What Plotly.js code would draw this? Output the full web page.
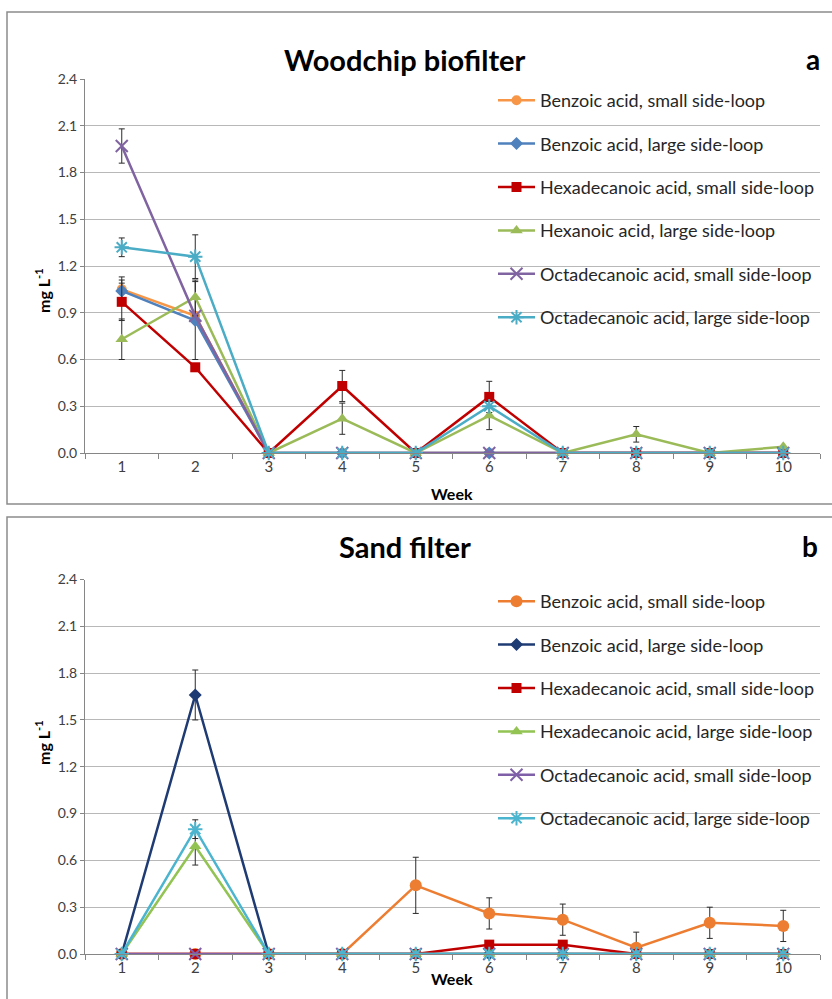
<!DOCTYPE html>
<html>
<head>
<meta charset="utf-8">
<script src="https://cdn.plot.ly/plotly-3.0.1.min.js"></script>
<style>html,body{margin:0;padding:0;background:#fff;}#chart{width:832px;height:999px;}</style>
</head>
<body>
<div id="chart"></div>
<script>
// ---------- data ----------
var weeks = ['1','2','3','4','5','6','7','8','9','10'];
var seriesNames = [
  'Benzoic acid, small side-loop',
  'Benzoic acid, large side-loop',
  'Hexadecanoic acid, small side-loop',
  'Hexanoic acid, large side-loop',
  'Octadecanoic acid, small side-loop',
  'Octadecanoic acid, large side-loop'
];
var seriesNamesB = [
  'Benzoic acid, small side-loop',
  'Benzoic acid, large side-loop',
  'Hexadecanoic acid, small side-loop',
  'Hexadecanoic acid, large side-loop',
  'Octadecanoic acid, small side-loop',
  'Octadecanoic acid, large side-loop'
];
// Panel a: Woodchip biofilter
var woodBenzSmall  = [1.05, 0.88, 0, 0, 0, 0, 0, 0, 0, 0];
var woodBenzLarge  = [1.04, 0.85, 0, 0, 0, 0, 0, 0, 0, 0];
var woodHexaSmall  = [0.97, 0.55, 0, 0.43, 0, 0.36, 0, 0, 0, 0];
var woodHexLarge   = [0.73, 1.00, 0, 0.22, 0, 0.24, 0, 0.12, 0, 0.04];
var woodOctaSmall  = [1.97, 0.88, 0, 0, 0, 0, 0, 0, 0, 0];
var woodOctaLarge  = [1.32, 1.26, 0, 0, 0, 0.30, 0, 0, 0, 0];
var woodBenzSmallErr = [0.08, null, null, null, null, null, null, null, null, null];
var woodBenzLargeErr = [0.07, 0.25, null, null, null, null, null, null, null, null];
var woodHexaSmallErr = [0.12, null, null, 0.10, null, 0.10, null, null, null, null];
var woodHexLargeErr  = [0.13, 0.11, null, 0.10, null, 0.09, null, 0.05, null, null];
var woodOctaSmallErr = [0.11, null, null, null, null, null, null, null, null, null];
var woodOctaLargeErr = [0.06, 0.14, null, null, null, null, null, null, null, null];
// Panel b: Sand filter
var sandBenzSmall  = [0, 0, 0, 0, 0.44, 0.26, 0.22, 0.04, 0.20, 0.18];
var sandBenzLarge  = [0, 1.66, 0, 0, 0, 0, 0, 0, 0, 0];
var sandHexaSmall  = [0, 0, 0, 0, 0, 0.06, 0.06, 0, 0, 0];
var sandHexaLarge  = [0, 0.69, 0, 0, 0, 0, 0, 0, 0, 0];
var sandOctaSmall  = [0, 0, 0, 0, 0, 0, 0, 0, 0, 0];
var sandOctaLarge  = [0, 0.80, 0, 0, 0, 0, 0, 0, 0, 0];
var sandBenzSmallErr = [null, null, null, null, 0.18, 0.10, 0.10, 0.10, 0.10, 0.10];
var sandBenzLargeErr = [null, 0.16, null, null, null, null, null, null, null, null];
var sandHexaSmallErr = [null, null, null, null, null, null, null, null, null, null];
var sandHexaLargeErr = [null, 0.12, null, null, null, null, null, null, null, null];
var sandOctaSmallErr = [null, null, null, null, null, null, null, null, null, null];
var sandOctaLargeErr = [null, 0.06, null, null, null, null, null, null, null, null];
var yTickVals = [0, 0.3, 0.6, 0.9, 1.2, 1.5, 1.8, 2.1, 2.4];

// ---------- styles ----------
var FONT = 'Lato, "Liberation Sans", sans-serif';
var styleA = [
  {color:'#F79646', symbol:'circle', size:10},
  {color:'#4F81BD', symbol:'diamond', size:10},
  {color:'#C00000', symbol:'square', size:10},
  {color:'#9BBB59', symbol:'triangle-up', size:11},
  {color:'#8064A2', symbol:'x-thin-open', size:12},
  {color:'#4BACC6', symbol:'asterisk-open', size:12}
];
var styleB = [
  {color:'#ED7D31', symbol:'circle', size:12},
  {color:'#1F3B73', symbol:'diamond', size:10},
  {color:'#C00000', symbol:'square', size:10},
  {color:'#92C353', symbol:'triangle-up', size:11},
  {color:'#7F5FA8', symbol:'x-thin-open', size:12},
  {color:'#4BB5CF', symbol:'asterisk-open', size:12}
];

function mk(vals, errs, name, st, xa, ya, leg, grp) {
  var open = st.symbol.indexOf('open') >= 0;
  return {
    x: weeks, y: vals, name: name, type: 'scatter', mode: 'lines+markers',
    xaxis: xa, yaxis: ya, legend: leg, legendgroup: grp, cliponaxis: false,
    line: {color: st.color, width: 2.5},
    marker: {color: st.color, symbol: st.symbol, size: st.size,
             line: {color: st.color, width: open ? 2 : 0}},
    error_y: {type: 'data', array: errs, visible: true, color: '#2b2b2b', thickness: 1, width: 3}
  };
}

var dataA = [woodBenzSmall, woodBenzLarge, woodHexaSmall, woodHexLarge, woodOctaSmall, woodOctaLarge];
var errA  = [woodBenzSmallErr, woodBenzLargeErr, woodHexaSmallErr, woodHexLargeErr, woodOctaSmallErr, woodOctaLargeErr];
var dataB = [sandBenzSmall, sandBenzLarge, sandHexaSmall, sandHexaLarge, sandOctaSmall, sandOctaLarge];
var errB  = [sandBenzSmallErr, sandBenzLargeErr, sandHexaSmallErr, sandHexaLargeErr, sandOctaSmallErr, sandOctaLargeErr];

var traces = [];
for (var i = 0; i < 6; i++) traces.push(mk(dataA[i], errA[i], seriesNames[i], styleA[i], 'x', 'y', 'legend', 'a' + i));
for (var j = 0; j < 6; j++) traces.push(mk(dataB[j], errB[j], seriesNamesB[j], styleB[j], 'x2', 'y2', 'legend2', 'b' + j));

var W = 832, H = 999;
function px(x) { return x / W; }
function py(y) { return 1 - y / H; }

function xax(anchor) {
  return {
    type: 'category', range: [-0.5, 9.5], domain: [px(85), px(820)], anchor: anchor,
    showline: true, linecolor: '#868686', linewidth: 1, ticks: 'outside', tickson: 'boundaries',
    ticklen: 5, tickcolor: '#868686', showgrid: false, zeroline: false,
    tickfont: {family: FONT, size: 15, color: '#404040'}, fixedrange: true
  };
}
function yax(anchor, d0, d1) {
  return {
    range: [0, 2.4], domain: [d0, d1], anchor: anchor, tickmode: 'array', tickvals: yTickVals,
    tickformat: '.1f', showline: true, linecolor: '#868686', linewidth: 1, ticks: 'outside',
    ticklen: 4, tickcolor: '#868686', showgrid: true, gridcolor: '#b8b8b8', gridwidth: 1,
    zeroline: false, tickfont: {family: FONT, size: 14, color: '#404040'}, fixedrange: true
  };
}
function legendAt(top) {
  return {
    x: px(493), xanchor: 'left', y: py(top), yanchor: 'top', bgcolor: 'rgba(0,0,0,0)',
    borderwidth: 0, font: {family: FONT, size: 18, color: '#262626'}, tracegroupgap: 17,
    itemwidth: 37
  };
}

var layout = {
  width: W, height: H, margin: {l: 0, r: 0, t: 0, b: 0},
  paper_bgcolor: '#ffffff', plot_bgcolor: 'rgba(0,0,0,0)', showlegend: true,
  xaxis: xax('y'), yaxis: yax('x', py(453), py(79)),
  xaxis2: xax('y2'), yaxis2: yax('x2', py(954), py(579.5)),
  legend: legendAt(82), legend2: legendAt(583),
  shapes: [
    {type: 'rect', xref: 'paper', yref: 'paper', x0: px(7), x1: px(845), y0: py(504), y1: py(12),
     line: {color: '#8c8c8c', width: 1.5}, layer: 'below'},
    {type: 'rect', xref: 'paper', yref: 'paper', x0: px(7), x1: px(845), y0: py(1010), y1: py(517),
     line: {color: '#8c8c8c', width: 1.5}, layer: 'below'}
  ],
  annotations: [
    {text: '<b>Woodchip biofilter</b>', x: px(405), y: py(40), xref: 'paper', yref: 'paper', showarrow: false,
     font: {family: FONT, size: 29, color: '#000'}},
    {text: '<b>a</b>', x: px(822), y: py(40), xref: 'paper', yref: 'paper', showarrow: false,
     font: {family: FONT, size: 28, color: '#000'}},
    {text: '<b>Sand filter</b>', x: px(405), y: py(546), xref: 'paper', yref: 'paper', showarrow: false,
     font: {family: FONT, size: 29, color: '#000'}},
    {text: '<b>b</b>', x: px(820), y: py(546), xref: 'paper', yref: 'paper', showarrow: false,
     font: {family: FONT, size: 28, color: '#000'}},
    {text: '<b>Week</b>', x: px(452), y: py(493), xref: 'paper', yref: 'paper', showarrow: false,
     font: {family: FONT, size: 16, color: '#000'}},
    {text: '<b>Week</b>', x: px(452), y: py(990), xref: 'paper', yref: 'paper', showarrow: false,
     font: {family: FONT, size: 16, color: '#000'}},
    {text: '<b>mg L<sup>-1</sup></b>', x: px(30), y: py(266), xref: 'paper', yref: 'paper', showarrow: false,
     textangle: -90, font: {family: FONT, size: 16, color: '#000'}},
    {text: '<b>mg L<sup>-1</sup></b>', x: px(30), y: py(767), xref: 'paper', yref: 'paper', showarrow: false,
     textangle: -90, font: {family: FONT, size: 16, color: '#000'}}
  ]
};

Plotly.newPlot('chart', traces, layout, {staticPlot: true, displayModeBar: false});
</script>
</body>
</html>
